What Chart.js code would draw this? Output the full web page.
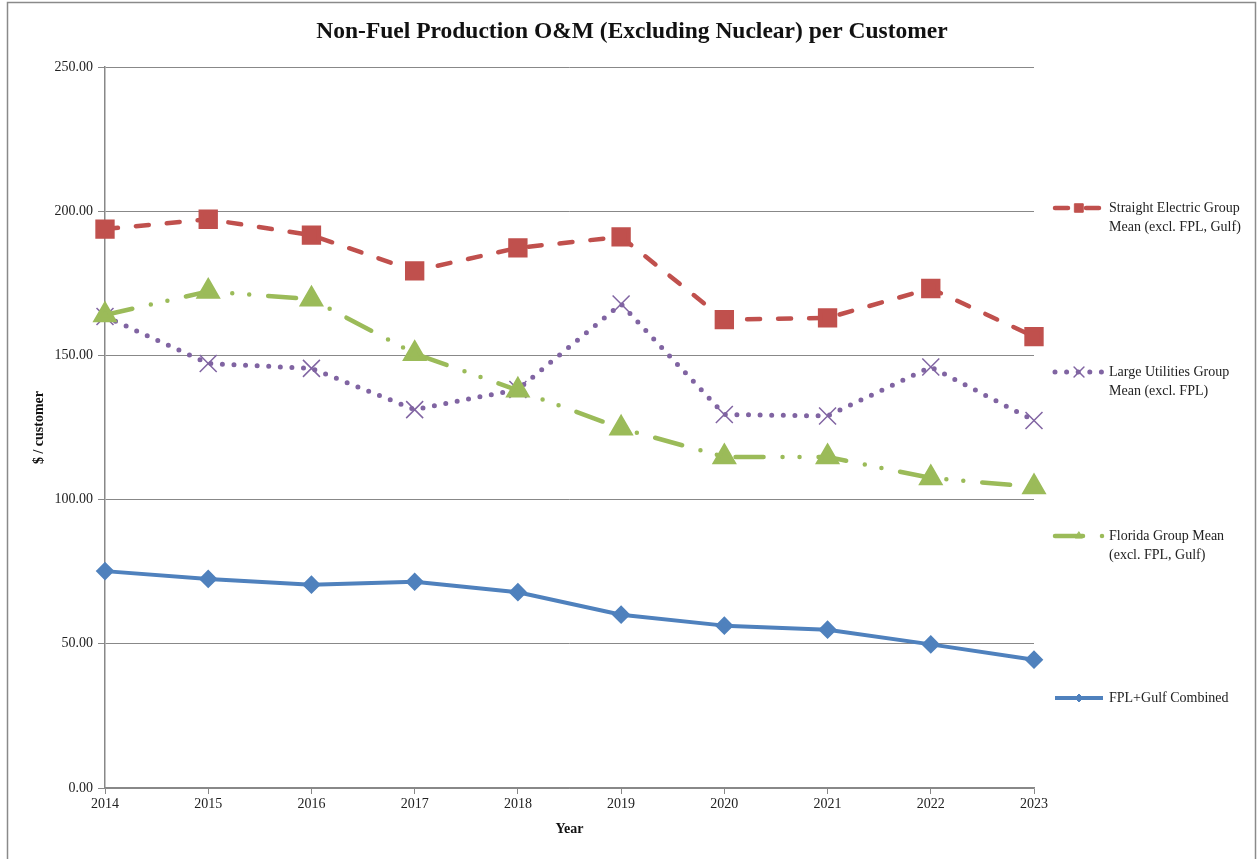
<!DOCTYPE html>
<html>
<head>
<meta charset="utf-8">
<title>Non-Fuel Production O&amp;M per Customer</title>
<script src="https://cdn.jsdelivr.net/npm/chart.js@4/dist/chart.umd.min.js"></script>
<style>
  html, body { margin: 0; padding: 0; background: #fff; }
  #wrap { width: 1259px; height: 859px; }
</style>
</head>
<body>
<div id="wrap"><canvas id="myChart" width="1259" height="859"></canvas></div>
<script>
// data
const years = ['2014', '2015', '2016', '2017', '2018', '2019', '2020', '2021', '2022', '2023'];
const straightElectric = [193.8, 197.2, 191.7, 179.3, 187.3, 191.1, 162.4, 163.0, 173.2, 156.5];
const largeUtilities = [163.5, 147.2, 145.5, 131.2, 138.2, 167.8, 129.5, 129.0, 146.0, 127.4];
const floridaGroup = [164.0, 172.2, 169.5, 150.6, 137.9, 124.7, 114.8, 114.8, 107.5, 104.4];
const fplGulf = [75.2, 72.5, 70.5, 71.5, 67.9, 60.1, 56.3, 54.9, 49.8, 44.5];
const yTicks = [0, 50, 100, 150, 200, 250];

const FONT = "'Liberation Serif', 'Times New Roman', serif";
const TITLE = 'Non-Fuel Production O&M (Excluding Nuclear) per Customer';

// legend sits to the right of the plot, like the Excel original
const legendPlugin = {
  id: 'sideLegend',
  afterDraw(chart) {
    const ctx = chart.ctx;
    const rows = [
      { ds: 0, y: 208, lines: ['Straight Electric Group', 'Mean (excl. FPL, Gulf)'], r: 6 },
      { ds: 1, y: 372, lines: ['Large Utilities Group', 'Mean (excl. FPL)'], r: 7 },
      { ds: 2, y: 536, lines: ['Florida Group Mean', '(excl. FPL, Gulf)'], r: 4 },
      { ds: 3, y: 698, lines: ['FPL+Gulf Combined'], r: 4 }
    ];
    rows.forEach(row => {
      const d = chart.data.datasets[row.ds];
      ctx.save();
      ctx.strokeStyle = d.borderColor;
      ctx.lineWidth = d.borderWidth;
      ctx.lineCap = d.borderCapStyle || 'butt';
      ctx.setLineDash(d.borderDash || []);
      ctx.beginPath();
      ctx.moveTo(1055, row.y);
      ctx.lineTo(1103, row.y);
      ctx.stroke();
      ctx.setLineDash([]);
      ctx.fillStyle = d.pointBackgroundColor;
      ctx.strokeStyle = d.pointBorderColor;
      ctx.lineWidth = d.pointBorderWidth || 1;
      Chart.helpers.drawPoint(ctx, { pointStyle: d.pointStyle, radius: row.r, rotation: 0, borderWidth: ctx.lineWidth }, 1079, row.y);
      ctx.fillStyle = '#222';
      ctx.font = '14px ' + FONT;
      ctx.textBaseline = 'middle';
      row.lines.forEach((t, i) => ctx.fillText(t, 1109, row.y + i * 19));
      ctx.restore();
    });
  }
};

// white page, thin frame, and the title centred on the whole page
const framePlugin = {
  id: 'frame',
  beforeDraw(chart) {
    const ctx = chart.ctx;
    ctx.save();
    ctx.fillStyle = '#fff';
    ctx.fillRect(0, 0, chart.width, chart.height);
    ctx.strokeStyle = '#8a8a8a';
    ctx.lineWidth = 1.5;
    ctx.strokeRect(7.5, 2.5, 1248, 870);
    ctx.fillStyle = '#111';
    ctx.font = 'bold 23.5px ' + FONT;
    ctx.textAlign = 'center';
    ctx.textBaseline = 'middle';
    ctx.fillText(TITLE, 632, 32);
    ctx.restore();
  }
};

new Chart(document.getElementById('myChart').getContext('2d'), {
  type: 'line',
  data: {
    labels: years,
    datasets: [
      {
        label: 'Straight Electric Group Mean (excl. FPL, Gulf)',
        data: straightElectric,
        borderColor: '#C0504D',
        borderWidth: 4.5,
        borderDash: [13, 18],
        borderCapStyle: 'round',
        pointStyle: 'rect',
        pointRadius: 10.5,
        pointBackgroundColor: '#C0504D',
        pointBorderColor: '#C0504D',
        order: 3
      },
      {
        label: 'Large Utilities Group Mean (excl. FPL)',
        data: largeUtilities,
        borderColor: '#8064A2',
        borderWidth: 5,
        borderDash: [0, 11.6],
        borderCapStyle: 'round',
        pointStyle: 'crossRot',
        pointRadius: 12,
        pointBorderWidth: 1.5,
        pointBackgroundColor: '#8064A2',
        pointBorderColor: '#8064A2',
        order: 2
      },
      {
        label: 'Florida Group Mean (excl. FPL, Gulf)',
        data: floridaGroup,
        borderColor: '#9BBB59',
        borderWidth: 4.5,
        borderDash: [28, 19, 0, 17, 0, 19],
        borderCapStyle: 'round',
        pointStyle: 'triangle',
        pointRadius: 10,
        pointBackgroundColor: '#9BBB59',
        pointBorderColor: '#9BBB59',
        order: 1
      },
      {
        label: 'FPL+Gulf Combined',
        data: fplGulf,
        borderColor: '#4F81BD',
        borderWidth: 4,
        pointStyle: 'rectRot',
        pointRadius: 6.5,
        pointBackgroundColor: '#4F81BD',
        pointBorderColor: '#4F81BD',
        order: 0
      }
    ]
  },
  options: {
    responsive: false,
    animation: false,
    devicePixelRatio: 1,
    layout: { padding: { top: 67, left: 0, right: 225, bottom: 0 } },
    elements: {
      line: { tension: 0, borderJoinStyle: 'round' }
    },
    datasets: { line: { clip: false } },
    plugins: {
      legend: { display: false },
      tooltip: { enabled: false },
      title: { display: false }
    },
    scales: {
      x: {
        type: 'category',
        offset: false,
        grid: { drawOnChartArea: false, color: '#888', tickLength: 6 },
        border: { color: '#888', width: 1.5 },
        ticks: { color: '#222', font: { family: FONT, size: 14 }, padding: 2, maxRotation: 0 },
        title: {
          display: true,
          text: 'Year',
          color: '#111',
          font: { family: FONT, size: 14, weight: 'bold' },
          padding: { top: 0, bottom: 21 }
        },
        afterFit(s) { s.height = 71; }
      },
      y: {
        min: 0,
        max: 250,
        afterBuildTicks(s) { s.ticks = yTicks.map(v => ({ value: v })); },
        grid: { color: '#888', lineWidth: 1, tickLength: 7 },
        border: { color: '#888', width: 1.5 },
        ticks: {
          color: '#222',
          font: { family: FONT, size: 14 },
          padding: 5,
          callback: v => Number(v).toFixed(2)
        },
        title: {
          display: true,
          text: '$ / customer',
          color: '#111',
          font: { family: FONT, size: 14, weight: 'bold' },
          padding: { top: 31, bottom: 0 }
        },
        afterFit(s) { s.width = 105; }
      }
    }
  },
  plugins: [framePlugin, legendPlugin]
});
</script>
</body>
</html>
